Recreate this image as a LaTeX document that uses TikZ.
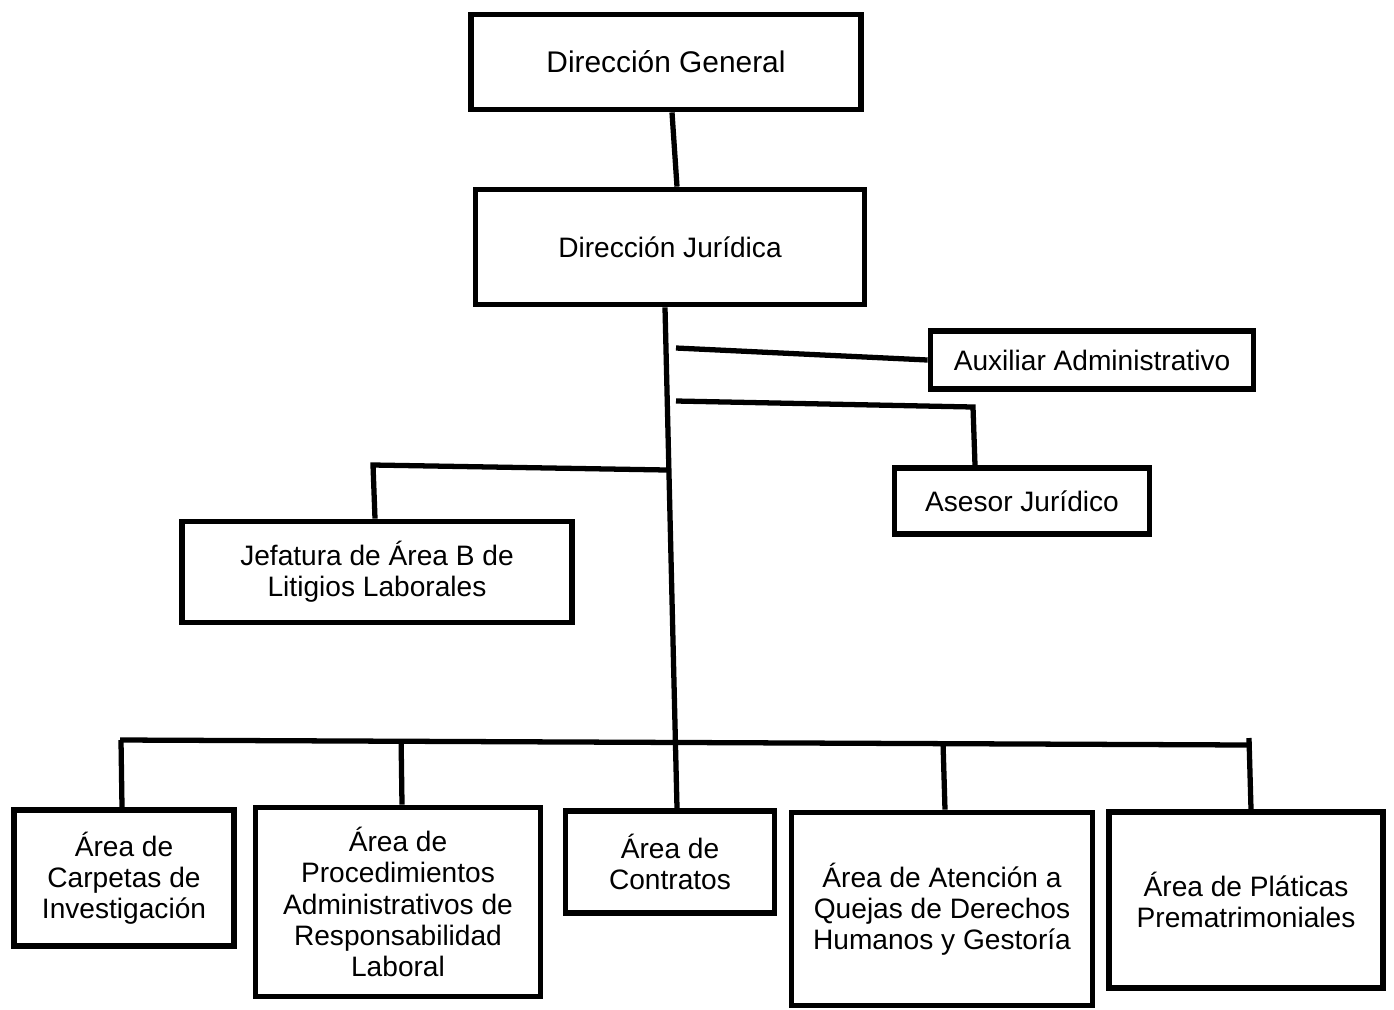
\documentclass[tikz,border=0pt]{standalone}
\usepackage{fontspec}
\setmainfont{Liberation Sans}
\usetikzlibrary{calc}
\begin{document}
\begin{tikzpicture}[x=0.02cm,y=-0.02cm,
  caja/.style={draw,rectangle,line width=3.3pt,align=center,inner sep=0pt},
  linea/.style={line width=3pt},
  every node/.style={font=\fontsize{16}{17.8}\selectfont}]
\useasboundingbox[fill=white] (0,0) rectangle (1394,1009);
\node[caja,minimum width=7.8cm,minimum height=1.9cm,font=\fontsize{17}{19}\selectfont] (dg) at (666,62) {Dirección General};
\node[caja,minimum width=7.78cm,minimum height=2.3cm] (dj) at (670,247) {Dirección Jurídica};
\node[caja,minimum width=6.46cm,minimum height=1.16cm] (aux) at (1092,360) {Auxiliar Administrativo};
\node[caja,minimum width=5.1cm,minimum height=1.32cm] (ase) at (1022,501) {Asesor Jurídico};
\node[caja,minimum width=7.8cm,minimum height=2.02cm] (jef) at (377,572) {Jefatura de Área B de\\Litigios Laborales};
\node[caja,minimum width=4.4cm,minimum height=2.72cm] (carp) at (124,878) {Área de\\Carpetas de\\Investigación};
\node[caja,minimum width=5.7cm,minimum height=3.78cm] (proc) at (398,902) {Área de\\Procedimientos\\Administrativos de\\Responsabilidad\\Laboral};
\node[caja,minimum width=4.18cm,minimum height=2.04cm] (cont) at (670,862) {Área de\\Contratos};
\node[caja,minimum width=6.02cm,minimum height=3.86cm] (aten) at (942,909) {Área de Atención a\\Quejas de Derechos\\Humanos y Gestoría};
\node[caja,minimum width=5.48cm,minimum height=3.52cm] (plat) at (1246,900) {Área de Pláticas\\Prematrimoniales};
\coordinate (auxl) at (676,348);
\coordinate (asel) at (676,401);
\coordinate (asec) at (973,407);
\coordinate (jefr) at (667,470);
\coordinate (jefc) at (373,465);
\coordinate (busl) at (120,740);
\coordinate (busr) at (1249,745);
\draw[linea] ($(dg.south)+(6,0)$) -- ($(dj.north)+(7,0)$);
\draw[linea] ($(dj.south)+(-5,0)$) -- ($(cont.north)+(7,0)$);
\draw[linea] (auxl) -- (aux.west);
\draw[linea] (asel) -- (asec) -- ($(ase.north)+(-47,0)$);
\draw[linea] (jefr) -- (jefc) -- ($(jef.north)+(-2,0)$);
\draw[linea] (busl) -- (busr);
\draw[linea] ($(busl)+(1,0)$) -- ($(carp.north)+(-2,0)$);
\draw[linea] ($(busl)!0.249!(busr)$) -- ($(proc.north)+(4,0)$);
\draw[linea] ($(busl)!0.729!(busr)$) -- ($(aten.north)+(3,0)$);
\draw[linea] ($(busr)+(0,-7)$) -- ($(plat.north)+(5,0)$);
\end{tikzpicture}
\end{document}
